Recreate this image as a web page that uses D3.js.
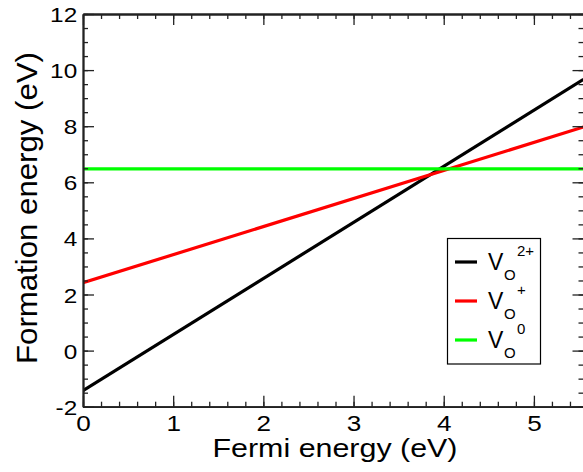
<!DOCTYPE html>
<html>
<head>
<meta charset="utf-8">
<script src="https://cdn.jsdelivr.net/npm/d3@7"></script>
<style>
  body { margin: 0; background: #fff; }
  svg { display: block; font-family: "Liberation Sans", Arial, sans-serif; }
</style>
</head>
<body>
<div id="chart"></div>
<script>
// Fermi energy end points (eV) and formation energies of the oxygen vacancy
const fermi = [0, 5.55];
const vo2plus = [-1.43, 9.67];
const vo1plus = [2.42, 7.97];
const vo0 = [6.48, 6.48];

const charges = ['2+', '+', '0'];
const colors = ['#000000', '#ff0000', '#00ff00'];
const seriesValues = [vo2plus, vo1plus, vo0];

const xTicks = [0, 1, 2, 3, 4, 5];
const yTicks = [-2, 0, 2, 4, 6, 8, 10, 12];

const W = 583, H = 472;
const margin = { top: 14, right: 0, bottom: 65, left: 83 };
const iw = 500.5, ih = H - margin.top - margin.bottom - 0.3;
const stretch = 1.16; // tick/title glyphs in the picture are wider than Arial

const svg = d3.select('#chart').append('svg').attr('width', W).attr('height', H);
const g = svg.append('g').attr('transform', `translate(${margin.left},${margin.top})`);

const x = d3.scaleLinear().domain([0, 5.55]).range([0, iw]);
const y = d3.scaleLinear().domain([-2, 12]).range([ih, 0]);

g.append('clipPath').attr('id', 'clip')
  .append('rect').attr('width', iw).attr('height', ih);

// lines
const line = d3.line().x(d => x(d[0])).y(d => y(d[1]));
seriesValues.forEach((vals, i) => {
  g.append('path')
    .datum(fermi.map((f, j) => [f, vals[j]]))
    .attr('clip-path', 'url(#clip)')
    .attr('fill', 'none')
    .attr('stroke', colors[i])
    .attr('stroke-width', 3.2)
    .attr('d', line);
});

// axes with inward ticks, mirrored top/right
const xMinor = d3.range(0, 5.55, 0.2);
const yMinor = d3.range(-2, 12.01, 0.5);
const axisColor = '#222';
const fmt = d => String(d);

function styleAxis(sel) {
  sel.select('.domain').attr('stroke', axisColor).attr('stroke-width', 1.8);
  sel.selectAll('.tick line').attr('stroke', axisColor).attr('stroke-width', 1.3);
}

const bottomMinor = g.append('g').attr('transform', `translate(0,${ih})`)
  .call(d3.axisBottom(x).tickValues(xMinor).tickSizeInner(-5).tickSizeOuter(0).tickFormat(''));
styleAxis(bottomMinor);
const bottom = g.append('g').attr('transform', `translate(0,${ih})`)
  .call(d3.axisBottom(x).tickValues(xTicks).tickSizeInner(-11).tickSizeOuter(0).tickPadding(8).tickFormat(fmt));
styleAxis(bottom);

const topMinor = g.append('g')
  .call(d3.axisTop(x).tickValues(xMinor).tickSizeInner(-5).tickSizeOuter(0).tickFormat(''));
styleAxis(topMinor);
const topAx = g.append('g')
  .call(d3.axisTop(x).tickValues(xTicks).tickSizeInner(-11).tickSizeOuter(0).tickFormat(''));
styleAxis(topAx);

const leftMinor = g.append('g')
  .call(d3.axisLeft(y).tickValues(yMinor).tickSizeInner(-5).tickSizeOuter(0).tickFormat(''));
styleAxis(leftMinor);
const left = g.append('g')
  .call(d3.axisLeft(y).tickValues(yTicks).tickSizeInner(-11).tickSizeOuter(0).tickPadding(5).tickFormat(fmt));
styleAxis(left);

const rightMinor = g.append('g').attr('transform', `translate(${iw},0)`)
  .call(d3.axisRight(y).tickValues(yMinor).tickSizeInner(-5).tickSizeOuter(0).tickFormat(''));
styleAxis(rightMinor);
const rightAx = g.append('g').attr('transform', `translate(${iw},0)`)
  .call(d3.axisRight(y).tickValues(yTicks).tickSizeInner(-11).tickSizeOuter(0).tickFormat(''));
styleAxis(rightAx);

bottom.selectAll('.tick text')
  .attr('font-family', '"Liberation Sans", Arial, sans-serif')
  .attr('font-size', 22.5).attr('fill', '#000')
  .attr('dy', '0.71em')
  .attr('transform', `scale(${stretch},1)`);
left.selectAll('.tick text')
  .attr('font-family', '"Liberation Sans", Arial, sans-serif')
  .attr('font-size', 21).attr('fill', '#000')
  .attr('dy', '0.36em')
  .attr('transform', `scale(${stretch},1)`);

// axis titles
svg.append('text')
  .attr('x', 335).attr('y', 457)
  .attr('text-anchor', 'middle').attr('font-size', 25.6)
  .attr('textLength', 245).attr('lengthAdjust', 'spacingAndGlyphs')
  .text('Fermi energy (eV)');

svg.append('text')
  .attr('transform', `translate(37,208) rotate(-90)`)
  .attr('text-anchor', 'middle').attr('font-size', 30)
  .attr('textLength', 312).attr('lengthAdjust', 'spacingAndGlyphs')
  .text('Formation energy (eV)');

// legend
const legend = svg.append('g');
legend.append('rect')
  .attr('x', 447.5).attr('y', 238.5).attr('width', 93).attr('height', 125.5)
  .attr('fill', '#fff').attr('stroke', '#000').attr('stroke-width', 1.2);

charges.forEach((c, i) => {
  const ry = 262 + i * 39;
  legend.append('line')
    .attr('x1', 455).attr('x2', 477).attr('y1', ry).attr('y2', ry)
    .attr('stroke', colors[i]).attr('stroke-width', 3.2);
  legend.append('text').attr('x', 488).attr('y', ry + 8)
    .attr('font-size', 23).text('V');
  legend.append('text').attr('x', 504).attr('y', ry + 18)
    .attr('font-size', 15).text('O');
  legend.append('text').attr('x', 517).attr('y', ry - 6)
    .attr('font-size', 15).text(c);
});
</script>
</body>
</html>
